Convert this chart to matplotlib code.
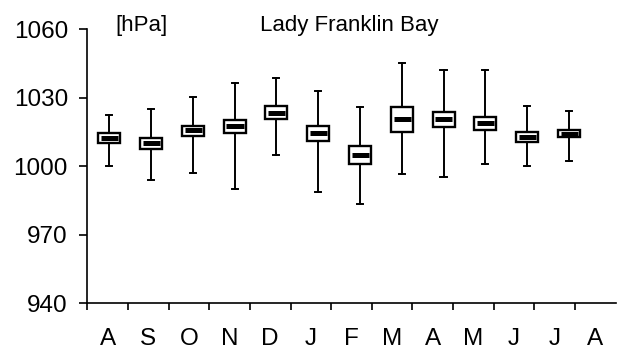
import matplotlib.pyplot as plt

months = ['A', 'S', 'O', 'N', 'D', 'J', 'F', 'M', 'A', 'M', 'J', 'J', 'A']

# box plot statistics per month (hPa)
whislo = [1000.3, 994.0, 997.2, 990.2, 1004.8, 988.7, 983.6, 996.8, 995.4, 1001.0, 1000.1, 1002.5]
q1 = [1010.1, 1007.6, 1013.1, 1014.6, 1020.6, 1011.2, 1001.0, 1014.9, 1017.3, 1015.9, 1010.6, 1012.8]
med = [1012.5, 1010.1, 1015.8, 1017.5, 1023.5, 1014.6, 1004.9, 1020.6, 1020.6, 1018.8, 1013.0, 1014.3]
q3 = [1014.7, 1012.3, 1017.6, 1020.3, 1026.4, 1017.6, 1009.0, 1025.8, 1023.8, 1021.7, 1015.0, 1015.8]
whishi = [1022.6, 1025.0, 1030.2, 1036.3, 1038.8, 1033.1, 1026.1, 1045.4, 1042.2, 1042.2, 1026.5, 1024.1]

plt.rcParams['font.family'] = ['Liberation Sans', 'DejaVu Sans']

stats = []
for i in range(len(med)):
    stats.append({'whislo': whislo[i], 'q1': q1[i], 'med': med[i],
                  'q3': q3[i], 'whishi': whishi[i]})

fig = plt.figure(figsize=(6.18, 3.52), dpi=100)
ax = fig.add_axes([0.1413, 0.1384, 0.855, 0.7784])

pos = [0.54 + 1.028 * i for i in range(len(med))]
bp = ax.bxp(stats, positions=pos, widths=0.54, showfliers=False,
            patch_artist=True, manage_ticks=False,
            boxprops=dict(facecolor='white', edgecolor='black', linewidth=1.7),
            whiskerprops=dict(color='black', linewidth=1.4),
            capprops=dict(color='black', linewidth=1.4),
            medianprops=dict(color='black', linewidth=3.6, solid_capstyle='butt'))
for cap in bp['caps']:
    x0, x1 = cap.get_xdata()
    c = (x0 + x1) / 2
    cap.set_xdata([c - 0.075, c + 0.075])
for m in bp['medians']:
    x0, x1 = m.get_xdata()
    m.set_xdata([x0 + 0.07, x1 - 0.05])

ax.set_xlim(0, 13)
ax.set_ylim(940, 1060)
ax.set_yticks([940, 970, 1000, 1030, 1060])
ax.set_xticks(range(13))
ax.set_xticklabels([])
ax.set_xticks([i + 0.5 for i in range(13)], minor=True)
ax.set_xticklabels(months, minor=True)
ax.tick_params(axis='x', which='minor', length=0, pad=18, labelsize=17.5)
ax.tick_params(axis='x', which='major', length=5, width=1.2, direction='out')
ax.tick_params(axis='y', length=6, width=1.2, direction='out', labelsize=17.5, pad=8)

ax.spines['top'].set_visible(False)
ax.spines['right'].set_visible(False)
ax.spines['left'].set_linewidth(1.2)
ax.spines['bottom'].set_linewidth(1.2)
ax.spines['left'].set_bounds(940, 1060)

fig.text(115 / 618, 1 - 31 / 352, '[hPa]', fontsize=16, va='baseline')
fig.text(260 / 618, 1 - 31 / 352, 'Lady Franklin Bay', fontsize=16, va='baseline')

fig.savefig('out.png', dpi=100)
